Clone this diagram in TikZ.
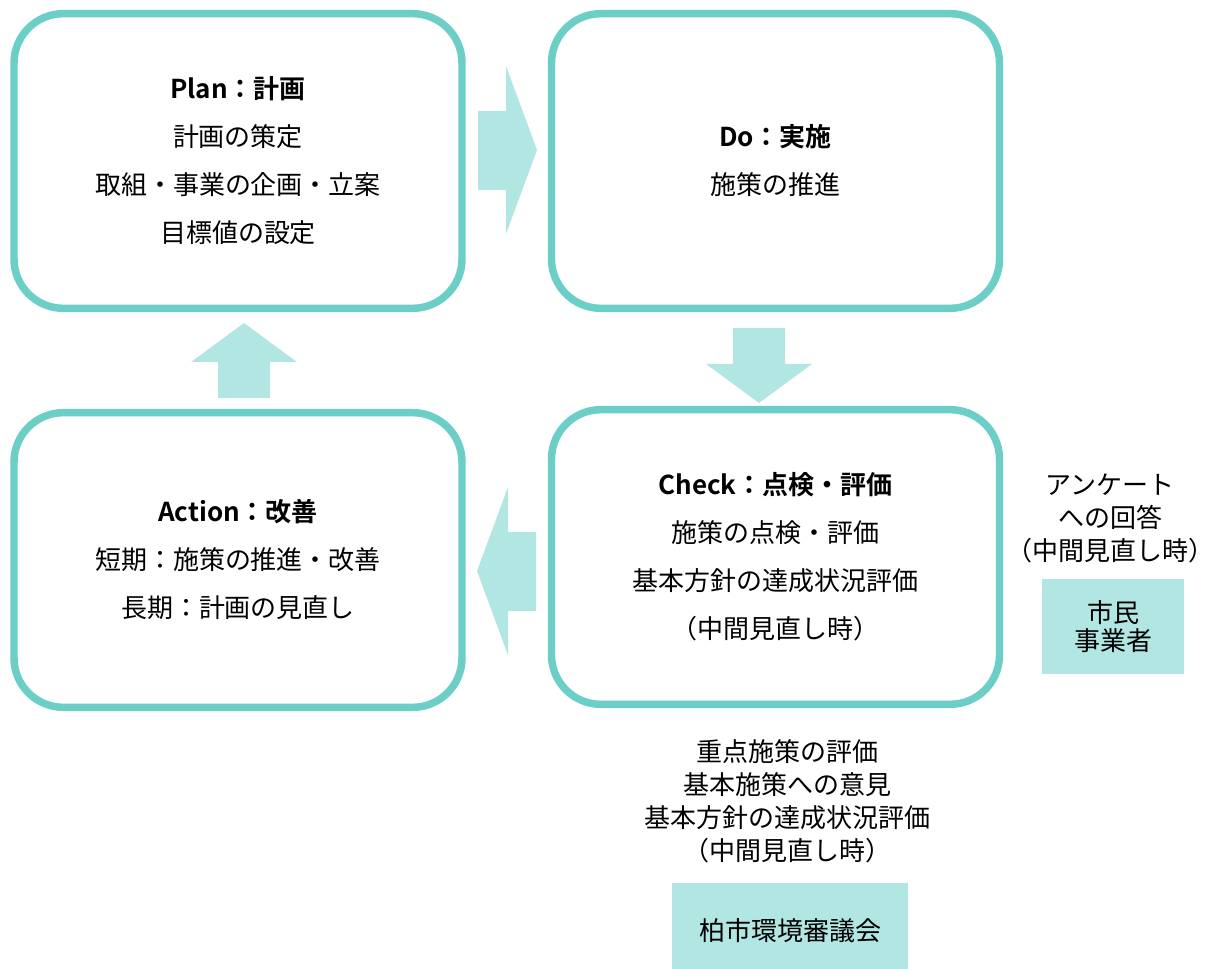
\documentclass[tikz,border=0pt]{standalone}
\usepackage{fontspec}
\setmainfont{Noto Sans CJK JP}[BoldFont={Noto Sans CJK JP Bold}]
\usepackage{xcolor}
\usetikzlibrary{positioning}
\definecolor{pdcaline}{HTML}{6BCFC7}
\definecolor{pdcafill}{HTML}{B2E6E2}

\begin{document}
\begin{tikzpicture}[
      x=0.75pt, y=-0.75pt,
      phase/.style={
          rectangle, draw=pdcaline, fill=white,
          line width=5.6pt, rounded corners=37pt,
          minimum width=336pt, minimum height=221pt,
          inner sep=0pt, align=center,
          font=\fontsize{19.5}{36}\selectfont
      },
      actor/.style={
          rectangle, fill=pdcafill, draw=none,
          inner sep=0pt, align=center,
          font=\fontsize{19.5}{21}\selectfont
      },
      note/.style={align=center, inner sep=0pt, font=\fontsize{19.5}{24.75}\selectfont},
      flowarrow/.style={fill=pdcafill, draw=none}
  ]
  \useasboundingbox (0,0) rectangle (1208,969);

  % PDCA phases
  \node[phase] (plan) at (238,161)
      {\textbf{Plan：計画}\\計画の策定\\取組・事業の企画・立案\\目標値の設定};
  \node[phase] (do) at (775.5,161)
      {\textbf{Do：実施}\\施策の推進};
  \node[phase] (check) at (775.5,557)
      {\textbf{Check：点検・評価}\\施策の点検・評価\\基本方針の達成状況評価\\（中間見直し時）};
  \node[phase] (action) at (238,560)
      {\textbf{Action：改善}\\短期：施策の推進・改善\\長期：計画の見直し};

  % block arrows between phases
  \fill[flowarrow] (478,111) -- (506,111) -- (506,66) -- (537,150)
      -- (506,234) -- (506,190) -- (478,190) -- cycle;
  \fill[flowarrow] (733,328) -- (785,328) -- (785,364) -- (812,364)
      -- (759,403) -- (706,364) -- (733,364) -- cycle;
  \fill[flowarrow] (536,532) -- (508,532) -- (508,487) -- (477,571)
      -- (508,655) -- (508,611) -- (536,611) -- cycle;
  \fill[flowarrow] (218,398) -- (218,362) -- (191,362) -- (244,323)
      -- (297,362) -- (270,362) -- (270,398) -- cycle;

  % citizens
  \node[note] (survey) at (1110,518) {アンケート\\への回答\\（中間見直し時）};
  \node[actor, minimum width=106.5pt, minimum height=71.25pt] (citizen)
      at (1113,626.5) {市民\\事業者};

  % council
  \node[note] (review) at (787,801)
      {重点施策の評価\\基本施策への意見\\基本方針の達成状況評価\\（中間見直し時）};
  \node[actor, minimum width=177pt, minimum height=72pt] (council)
      at (790,931) {柏市環境審議会};
\end{tikzpicture}
\end{document}
